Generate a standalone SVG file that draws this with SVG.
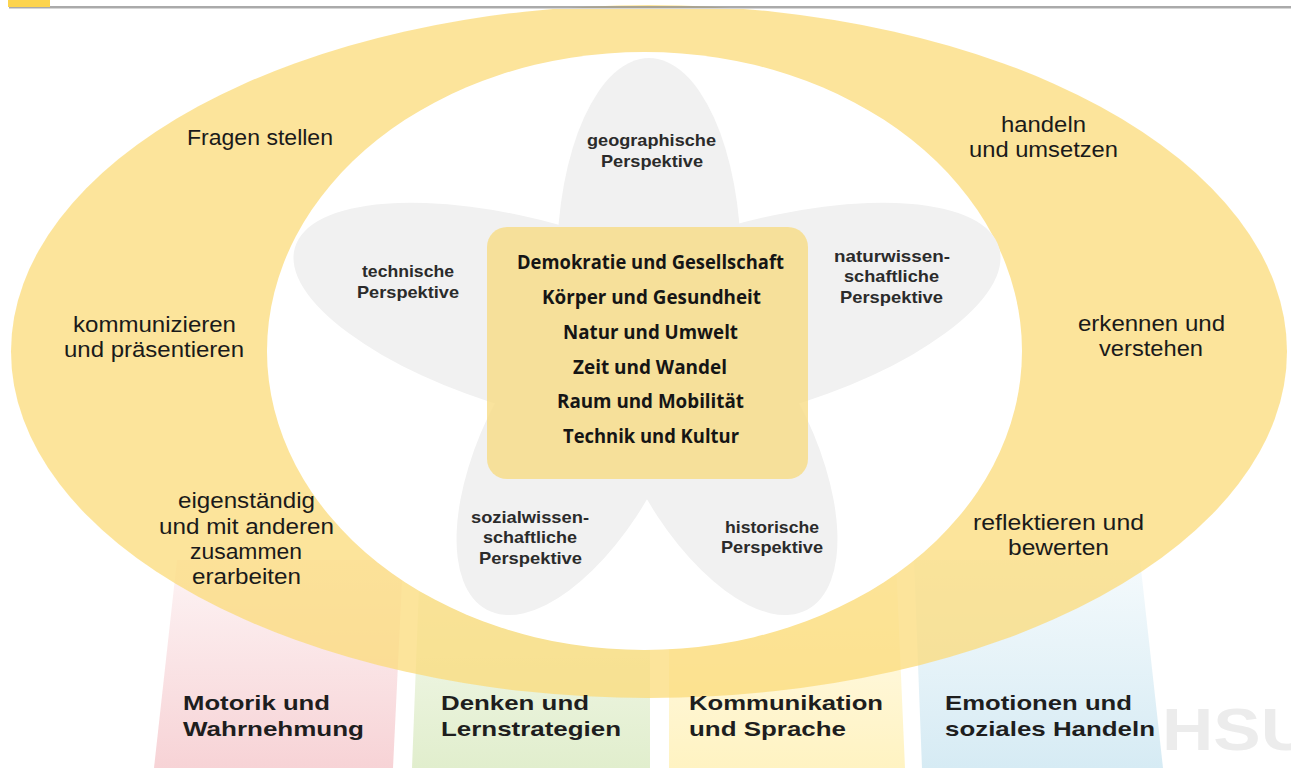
<svg xmlns="http://www.w3.org/2000/svg" width="1291" height="768" viewBox="0 0 1291 768">
  <defs>
    <linearGradient id="gPink" gradientUnits="userSpaceOnUse" x1="0" y1="560" x2="0" y2="768">
      <stop offset="0" stop-color="#f7d3d6" stop-opacity="0.25"/>
      <stop offset="1" stop-color="#f7d3d6" stop-opacity="1"/>
    </linearGradient>
    <linearGradient id="gGreen" gradientUnits="userSpaceOnUse" x1="0" y1="560" x2="0" y2="768">
      <stop offset="0" stop-color="#e1eecd" stop-opacity="0.25"/>
      <stop offset="1" stop-color="#e1eecd" stop-opacity="1"/>
    </linearGradient>
    <linearGradient id="gYellow" gradientUnits="userSpaceOnUse" x1="0" y1="560" x2="0" y2="768">
      <stop offset="0" stop-color="#fff3c2" stop-opacity="0.25"/>
      <stop offset="1" stop-color="#fff3c2" stop-opacity="1"/>
    </linearGradient>
    <linearGradient id="gBlue" gradientUnits="userSpaceOnUse" x1="0" y1="560" x2="0" y2="768">
      <stop offset="0" stop-color="#d6ebf4" stop-opacity="0.25"/>
      <stop offset="1" stop-color="#d6ebf4" stop-opacity="1"/>
    </linearGradient>
  </defs>
  <style>
    .ring { font-family: "Liberation Sans", Arial, sans-serif; font-size: 22px; fill: #1a1a1a; text-anchor: middle; }
    .petal { fill: #f1f1f1; }
    .pl { font-family: "Liberation Sans", Arial, sans-serif; font-size: 16.5px; font-weight: bold; fill: #2b2b2b; text-anchor: middle; }
    .ct { font-family: "Open Sans", "Noto Sans", sans-serif; font-size: 19px; font-weight: bold; fill: #151515; text-anchor: middle; }
    .col { font-family: "Liberation Sans", Arial, sans-serif; font-size: 21px; font-weight: bold; fill: #1e1e1e; }
  </style>
  <rect width="1291" height="768" fill="#ffffff"/>

  <g id="columns">
    <polygon points="177,560 403,560 393,768 154,768" fill="url(#gPink)"/>
    <polygon points="420,560 650,560 650,768 412,768" fill="url(#gGreen)"/>
    <polygon points="669,560 896,560 905,768 669,768" fill="url(#gYellow)"/>
    <polygon points="914,560 1140,560 1163,768 922,768" fill="url(#gBlue)"/>
  </g>

  <g id="ring-shape">
    <ellipse cx="649" cy="351.5" rx="638" ry="346.5" fill="#fbdb7a" fill-opacity="0.75"/>
    <ellipse cx="644.5" cy="351" rx="377.5" ry="299" fill="#ffffff"/>
  </g>

  <g id="petals">
    <ellipse class="petal" cx="649" cy="262" rx="92" ry="204"/>
    <ellipse class="petal" cx="540" cy="318" rx="255" ry="95" transform="rotate(16 540 318)"/>
    <ellipse class="petal" cx="754" cy="318" rx="255" ry="95" transform="rotate(-16 754 318)"/>
    <ellipse class="petal" cx="576" cy="442" rx="190" ry="90" transform="rotate(-62 576 442)"/>
    <ellipse class="petal" cx="718" cy="442" rx="190" ry="90" transform="rotate(62 718 442)"/>
  </g>

  <g id="petal-geo">
    <text class="pl" x="651.5" y="146" textLength="129" lengthAdjust="spacingAndGlyphs">geographische</text>
    <text class="pl" x="652" y="167" textLength="102" lengthAdjust="spacingAndGlyphs">Perspektive</text>
  </g>
  <g id="petal-tech">
    <text class="pl" x="408" y="277" textLength="92" lengthAdjust="spacingAndGlyphs">technische</text>
    <text class="pl" x="408" y="298" textLength="102" lengthAdjust="spacingAndGlyphs">Perspektive</text>
  </g>
  <g id="petal-natur">
    <text class="pl" x="892" y="262" textLength="116" lengthAdjust="spacingAndGlyphs">naturwissen-</text>
    <text class="pl" x="891.5" y="282" textLength="95" lengthAdjust="spacingAndGlyphs">schaftliche</text>
    <text class="pl" x="891.5" y="303" textLength="103" lengthAdjust="spacingAndGlyphs">Perspektive</text>
  </g>
  <g id="petal-sozial">
    <text class="pl" x="530" y="523" textLength="118" lengthAdjust="spacingAndGlyphs">sozialwissen-</text>
    <text class="pl" x="530" y="543" textLength="94" lengthAdjust="spacingAndGlyphs">schaftliche</text>
    <text class="pl" x="530.5" y="564" textLength="103" lengthAdjust="spacingAndGlyphs">Perspektive</text>
  </g>
  <g id="petal-hist">
    <text class="pl" x="772" y="533" textLength="94" lengthAdjust="spacingAndGlyphs">historische</text>
    <text class="pl" x="772" y="553" textLength="102" lengthAdjust="spacingAndGlyphs">Perspektive</text>
  </g>

  <g id="center-box">
    <rect x="487" y="227" width="321" height="252" rx="20" ry="20" fill="#f8dc84" fill-opacity="0.8"/>
    <text class="ct" x="650.5" y="269" textLength="267" lengthAdjust="spacingAndGlyphs">Demokratie und Gesellschaft</text>
    <text class="ct" x="651.5" y="304" textLength="219" lengthAdjust="spacingAndGlyphs">Körper und Gesundheit</text>
    <text class="ct" x="650.5" y="339" textLength="175" lengthAdjust="spacingAndGlyphs">Natur und Umwelt</text>
    <text class="ct" x="650" y="374" textLength="154" lengthAdjust="spacingAndGlyphs">Zeit und Wandel</text>
    <text class="ct" x="650.5" y="408" textLength="187" lengthAdjust="spacingAndGlyphs">Raum und Mobilität</text>
    <text class="ct" x="651" y="443" textLength="176" lengthAdjust="spacingAndGlyphs">Technik und Kultur</text>
  </g>

  <g id="ring-fragen">
    <text class="ring" x="260" y="145" textLength="146" lengthAdjust="spacingAndGlyphs">Fragen stellen</text>
  </g>
  <g id="ring-kommunizieren">
    <text class="ring" x="154.5" y="332" textLength="163" lengthAdjust="spacingAndGlyphs">kommunizieren</text>
    <text class="ring" x="154" y="357" textLength="180" lengthAdjust="spacingAndGlyphs">und präsentieren</text>
  </g>
  <g id="ring-erarbeiten">
    <text class="ring" x="246.5" y="508" textLength="137" lengthAdjust="spacingAndGlyphs">eigenständig</text>
    <text class="ring" x="246.5" y="534" textLength="175" lengthAdjust="spacingAndGlyphs">und mit anderen</text>
    <text class="ring" x="246" y="559" textLength="112" lengthAdjust="spacingAndGlyphs">zusammen</text>
    <text class="ring" x="246.5" y="584" textLength="109" lengthAdjust="spacingAndGlyphs">erarbeiten</text>
  </g>
  <g id="ring-handeln">
    <text class="ring" x="1043.5" y="132" textLength="85" lengthAdjust="spacingAndGlyphs">handeln</text>
    <text class="ring" x="1043.5" y="157" textLength="149" lengthAdjust="spacingAndGlyphs">und umsetzen</text>
  </g>
  <g id="ring-erkennen">
    <text class="ring" x="1151.5" y="331" textLength="147" lengthAdjust="spacingAndGlyphs">erkennen und</text>
    <text class="ring" x="1151" y="356" textLength="104" lengthAdjust="spacingAndGlyphs">verstehen</text>
  </g>
  <g id="ring-reflektieren">
    <text class="ring" x="1058.5" y="530" textLength="171" lengthAdjust="spacingAndGlyphs">reflektieren und</text>
    <text class="ring" x="1058.5" y="555" textLength="101" lengthAdjust="spacingAndGlyphs">bewerten</text>
  </g>

  <g id="col-motorik">
    <text class="col" x="183" y="710" textLength="147" lengthAdjust="spacingAndGlyphs">Motorik und</text>
    <text class="col" x="183" y="736" textLength="181" lengthAdjust="spacingAndGlyphs">Wahrnehmung</text>
  </g>
  <g id="col-denken">
    <text class="col" x="441" y="710" textLength="148" lengthAdjust="spacingAndGlyphs">Denken und</text>
    <text class="col" x="441" y="736" textLength="180" lengthAdjust="spacingAndGlyphs">Lernstrategien</text>
  </g>
  <g id="col-kommunikation">
    <text class="col" x="689" y="710" textLength="194" lengthAdjust="spacingAndGlyphs">Kommunikation</text>
    <text class="col" x="689" y="736" textLength="157" lengthAdjust="spacingAndGlyphs">und Sprache</text>
  </g>
  <g id="col-emotionen">
    <text class="col" x="945" y="710" textLength="187" lengthAdjust="spacingAndGlyphs">Emotionen und</text>
    <text class="col" x="945" y="736" textLength="210" lengthAdjust="spacingAndGlyphs">soziales Handeln</text>
  </g>

  <g id="watermark">
    <text x="1162" y="750" font-family="Liberation Sans, Arial, sans-serif" font-size="60" font-weight="bold" fill="#ececec" textLength="150" lengthAdjust="spacingAndGlyphs">HSU</text>
  </g>

  <g id="top-bar">
    <line x1="9" y1="8.5" x2="1291" y2="8.5" stroke="#d6d6d6" stroke-width="1"/>
    <line x1="9" y1="7" x2="1291" y2="7" stroke="#8e8e8e" stroke-width="1.6"/>
    <rect x="8" y="0" width="42" height="7" fill="#fdd44e"/>
  </g>
</svg>
